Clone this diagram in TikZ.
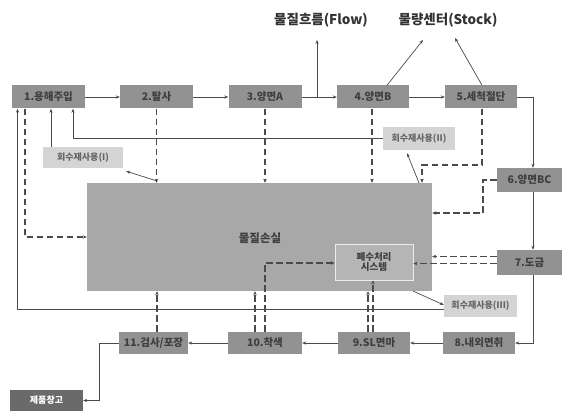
\documentclass[tikz,border=0pt]{standalone}
\usepackage{fontspec}
\setmainfont{Noto Sans CJK KR}
\usetikzlibrary{arrows.meta,calc}
\definecolor{procgray}{HTML}{929292}
\definecolor{proctext}{HTML}{3F3F3F}
\definecolor{lossgray}{HTML}{A8A8A8}
\definecolor{relgray}{HTML}{D4D4D4}
\definecolor{linegray}{HTML}{4A4A4A}
\definecolor{whgray}{HTML}{6A6A6A}
\tikzset{
  proc/.style={fill=procgray, text=proctext, minimum width=73, minimum height=23, inner sep=0pt, font=\fontsize{10.5}{12}\selectfont\bfseries},
  relbox/.style={fill=relgray, text=proctext!80, minimum height=22, inner sep=0pt, font=\fontsize{9}{11}\selectfont\bfseries},
  sarr/.style={draw=linegray, line width=0.7pt, -{Stealth[length=4pt,width=3.2pt]}},
  darr/.style={draw=linegray, line width=1.2pt, dash pattern=on 6.5pt off 3.5pt, -{Stealth[length=4pt,width=3.5pt]}},
  title/.style={font=\fontsize{13.5}{15}\selectfont\bfseries, text=black!80}
}
\begin{document}
\begin{tikzpicture}[x=1pt,y=-1pt]
\useasboundingbox (0,0) rectangle (567,411);
% titles
\node[title] (flow) at (321,20) {물질흐름(Flow)};
\node[title] (stock) at (448,20) {물량센터(Stock)};
% big loss box
\node[fill=lossgray, minimum width=345, minimum height=108, inner sep=0pt] (loss) at (259.5,237) {};
\node[font=\fontsize{11.5}{13}\selectfont\bfseries, text=proctext] (losslabel) at (260,238) {물질손실};
\node[fill=lossgray!85!white, draw=white!85!gray, line width=0.8pt, minimum width=78, minimum height=36, inner sep=0pt, align=center, text=proctext, font=\fontsize{9.5}{11}\selectfont\bfseries] (wt) at (374,262) {폐수처리\\[-1pt]시스템};
% process boxes
\node[proc] (n1) at (48.5,97) {1.용해주입};
\node[proc] (n2) at (156.5,97) {2.탈사};
\node[proc] (n3) at (265,97) {3.양면A};
\node[proc, minimum width=72] (n4) at (373,97) {4.양면B};
\node[proc, minimum width=72] (n5) at (481,97) {5.세척절단};
\node[proc, minimum width=65, minimum height=24] (n6) at (529.5,180) {6.양면BC};
\node[proc, minimum width=65, minimum height=25] (n7) at (529.5,262.5) {7.도금};
\node[proc, minimum width=72, minimum height=22] (n8) at (479,343) {8.내외면취};
\node[proc, minimum width=72, minimum height=22] (n9) at (374,343) {9.SL면마};
\node[proc, minimum width=74, minimum height=22] (n10) at (265,343) {10.착색};
\node[proc, minimum width=69, minimum height=22] (n11) at (153.5,343) {11.검사/포장};
\node[proc, fill=whgray, text=white, minimum width=73, minimum height=21, font=\fontsize{9}{11}\selectfont\bfseries] (wh) at (46.5,400.5) {제품창고};
% recycle boxes
\node[relbox, minimum width=80, minimum height=21] (r1) at (83,157.5) {회수재사용(I)};
\node[relbox, minimum width=72, minimum height=23] (r2) at (419,138.5) {회수재사용(II)};
\node[relbox, minimum width=73, minimum height=22] (r3) at (480.5,306) {회수재사용(III)};
% main flow
\draw[sarr] (n1) -- (n2);
\draw[sarr] (n2) -- (n3);
\draw[sarr] (n3) -- (n4);
\draw[sarr] (n4) -- (n5);
\draw[sarr] (n5.east) -| ([xshift=3.5pt]n6.north);
\draw[sarr] ([xshift=3.5pt]n6.south) -- ([xshift=3.5pt]n7.north);
\draw[sarr] ([xshift=3.5pt]n7.south) |- (n8.east);
\draw[sarr] (n8) -- (n9);
\draw[sarr] (n9) -- (n10);
\draw[sarr] (n10) -- (n11);
\draw[sarr] (n11.west) -- ++(-19,0) |- (wh.east);
% flow / stock pointers
\coordinate (fb) at (317,97);
\coordinate (ft) at (317,40);
\draw[sarr] (fb) -- (ft);
\coordinate (s4) at (423,40);
\coordinate (s5) at (455,38);
\draw[sarr] ([xshift=14pt]n4.north) -- (s4);
\draw[sarr] ([xshift=1pt]n5.north) -- (s5);
% dashed losses from top row
\draw[darr] (n2.south) -- (n2.south |- loss.north);
\draw[darr] (n3.south) -- (n3.south |- loss.north);
\draw[darr] ([xshift=-1pt]n4.south) -- ([xshift=-1pt]n4.south |- loss.north);
\coordinate (c5) at (422,165);
\draw[darr] ([xshift=1pt]n5.south) |- (c5) -- (c5 |- loss.north);
\draw[darr] ([xshift=-23.5pt]n1.south) |- (loss.west);
\coordinate (c6a) at (483,180);
\coordinate (c6b) at (483,213);
\draw[darr] (n6.west) -- (c6a) -- (c6b) -- (c6b -| loss.east);
\draw[darr] ([yshift=6pt]n7.west) -- ([yshift=6pt]n7.west -| loss.east);
\draw[darr] ([yshift=-1pt]n7.west) -- ([yshift=-1pt]n7.west -| wt.east);
% dashed losses from bottom row
\draw[darr] ([xshift=3.5pt]n11.north) -- ([xshift=3.5pt]n11.north |- loss.south);
\draw[darr] ([xshift=-10pt]n10.north) -- ([xshift=-10pt]n10.north |- loss.south);
\draw[darr] (n10.north) |- ([yshift=-1pt]wt.west);
\draw[darr] ([xshift=-6pt]n9.north) -- ([xshift=-6pt]n9.north |- loss.south);
\draw[darr] ([xshift=-1pt]n9.north) -- ([xshift=-1pt]n9.north |- wt.south);
% recycle connections
\draw[sarr] ([xshift=-32pt]r1.north) -- ([xshift=-32pt]r1.north |- n1.south);
\draw[sarr] (r2.west) -| ([xshift=24.5pt]n1.south);
\draw[sarr] ([yshift=-3pt]r3.west) -| ([xshift=-31pt]n1.south);
\coordinate (l1) at (157,181);
\draw[sarr] (l1) -- ([xshift=3pt,yshift=-3pt]r1.south east);
\coordinate (l2) at (419,183);
\draw[sarr] (l2) -- ([xshift=-12pt,yshift=-3pt]r2.south);
\coordinate (l3) at (413,291);
\draw[sarr] (l3) -- ([yshift=1pt]r3.west);
\end{tikzpicture}
\end{document}
